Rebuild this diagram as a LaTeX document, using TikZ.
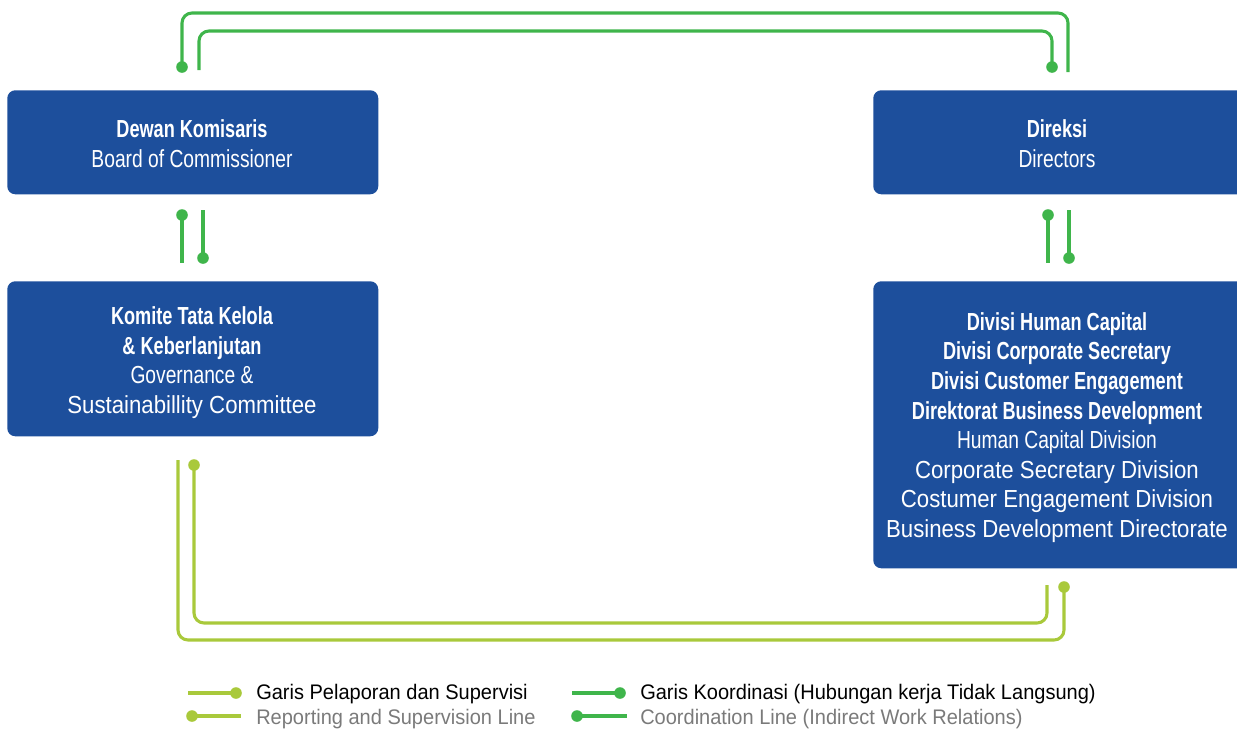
\documentclass[tikz,border=0pt]{standalone}
\usepackage{fontspec}
\setmainfont{Liberation Sans}
\newfontfamily\condfont[FakeStretch=0.735]{Liberation Sans}
\newfontfamily\narrowfont[FakeStretch=0.78]{Liberation Sans}
\newfontfamily\widefont[FakeStretch=0.90]{Liberation Sans}
\newfontfamily\legfont[FakeStretch=0.95]{Liberation Sans}
\definecolor{boxblue}{HTML}{1D4F9C}
\definecolor{coordgreen}{HTML}{3FB54B}
\definecolor{limegreen}{HTML}{A9C93B}
\definecolor{legendgrey}{HTML}{7A7A7A}
\tikzset{
  orgbox/.style={fill=boxblue, rounded corners=6pt, inner sep=0pt, anchor=north west},
  boxtext/.style={text=white, align=center, inner sep=0pt, font=\fontsize{18.5pt}{22.2pt}\selectfont},
  coordline/.style={draw=coordgreen, line width=2.3pt, rounded corners=7.5pt},
  repline/.style={draw=limegreen, line width=2.3pt, rounded corners=7.5pt},
  legtext/.style={anchor=west, inner sep=0pt, font=\legfont\fontsize{15.8pt}{17pt}\selectfont},
}
\newcommand{\bt}[1]{{\condfont\bfseries #1}}
\newcommand{\nt}[1]{{\narrowfont #1}}
\newcommand{\wt}[1]{{\widefont #1}}
\begin{document}
\begin{tikzpicture}[x=0.75pt,y=-0.75pt]
\useasboundingbox (0,0) rectangle (1237,729);
% boxes
\node[orgbox, minimum width=371*0.75pt, minimum height=104*0.75pt] (dk) at (7,90) {};
\node[boxtext] (dkt) at (192,143.5) {\bt{Dewan Komisaris}\\\nt{Board of Commissioner}};
\node[orgbox, minimum width=372*0.75pt, minimum height=104*0.75pt] (dir) at (873,90) {};
\node[boxtext] (dirt) at (1057,143.5) {\bt{Direksi}\\\nt{Directors}};
\node[orgbox, minimum width=371*0.75pt, minimum height=155*0.75pt] (kom) at (7,281) {};
\node[boxtext] (komt) at (192,362.5) {\bt{Komite Tata Kelola}\\\bt{\& Keberlanjutan}\\\nt{Governance \&}\\\wt{Sustainabillity Committee}};
\node[orgbox, minimum width=372*0.75pt, minimum height=287*0.75pt] (div) at (873,281) {};
\node[boxtext] (divt) at (1057,427.5) {\bt{Divisi Human Capital}\\\bt{Divisi Corporate Secretary}\\\bt{Divisi Customer Engagement}\\\bt{Direktorat Business Development}\\\nt{Human Capital Division}\\\wt{Corporate Secretary Division}\\\wt{Costumer Engagement Division}\\\wt{Business Development Directorate}};
% coordinates for connectors
\coordinate (t1a) at (182,67);
\coordinate (t1b) at (1068,72);
\coordinate (t2a) at (199,70);
\coordinate (t2b) at (1052,67);
\coordinate (m1a) at (182,215);
\coordinate (m1b) at (182,263);
\coordinate (m2a) at (203,210);
\coordinate (m2b) at (203,258);
\coordinate (m3a) at (1048,215);
\coordinate (m3b) at (1048,263);
\coordinate (m4a) at (1069,210);
\coordinate (m4b) at (1069,258);
\coordinate (b1a) at (178,460);
\coordinate (b1b) at (1064,587);
\coordinate (b2a) at (194,465);
\coordinate (b2b) at (1047,585);
% top coordination lines
\draw[coordline] (t1a) -- (182,13) -- (1068,13) -- (t1b);
\fill[coordgreen] (t1a) circle (5.8);
\draw[coordline] (t2a) -- (199,31) -- (1052,31) -- (t2b);
\fill[coordgreen] (t2b) circle (5.8);
% middle
\draw[coordline] (m1a) -- (m1b); \fill[coordgreen] (m1a) circle (5.8);
\draw[coordline] (m2a) -- (m2b); \fill[coordgreen] (m2b) circle (5.8);
\draw[coordline] (m3a) -- (m3b); \fill[coordgreen] (m3a) circle (5.8);
\draw[coordline] (m4a) -- (m4b); \fill[coordgreen] (m4b) circle (5.8);
% bottom reporting lines
\draw[repline] (b1a) -- (178,640) -- (1064,640) -- (b1b);
\fill[limegreen] (b1b) circle (5.8);
\draw[repline] (b2a) -- (194,623) -- (1047,623) -- (b2b);
\fill[limegreen] (b2a) circle (5.8);
% legend
\coordinate (l1a) at (188,693); \coordinate (l1b) at (236,693);
\coordinate (l2a) at (192,716); \coordinate (l2b) at (241,716);
\coordinate (l3a) at (572,693); \coordinate (l3b) at (620,693);
\coordinate (l4a) at (577,716); \coordinate (l4b) at (627,716);
\draw[limegreen, line width=2.3pt] (l1a) -- (l1b); \fill[limegreen] (l1b) circle (5.8);
\draw[limegreen, line width=2.3pt] (l2a) -- (l2b); \fill[limegreen] (l2a) circle (5.8);
\draw[coordgreen, line width=2.3pt] (l3a) -- (l3b); \fill[coordgreen] (l3b) circle (5.8);
\draw[coordgreen, line width=2.3pt] (l4a) -- (l4b); \fill[coordgreen] (l4a) circle (5.8);
\node[legtext] (lg1) at (256,694) {Garis Pelaporan dan Supervisi};
\node[legtext, text=legendgrey] (lg2) at (256,719) {Reporting and Supervision Line};
\node[legtext] (lg3) at (640,694) {Garis Koordinasi (Hubungan kerja Tidak Langsung)};
\node[legtext, text=legendgrey] (lg4) at (640,719) {Coordination Line (Indirect Work Relations)};
\end{tikzpicture}
\end{document}
